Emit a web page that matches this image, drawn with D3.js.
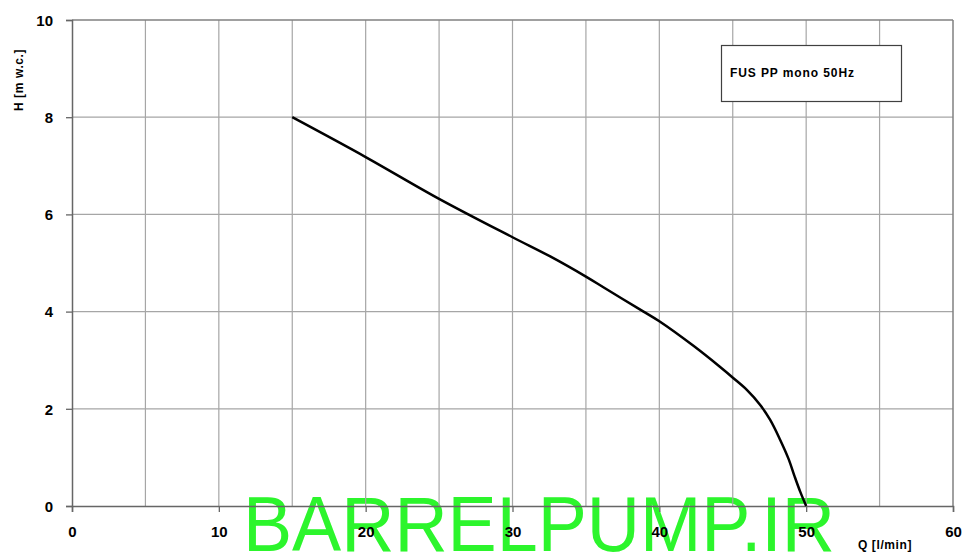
<!DOCTYPE html>
<html><head><meta charset="utf-8">
<script src="https://cdn.jsdelivr.net/npm/d3@7"></script>
<style>body{margin:0;background:#fff;} svg{display:block;font-family:"Liberation Sans",Arial,sans-serif;}</style>
</head><body>
<svg id="c" width="962" height="552"></svg>
<script>
const flow = [15, 20, 25, 30, 32.6, 35, 36.3, 38.7, 40, 42.3, 44.1, 45.05, 45.96, 46.87, 47.55, 48.2, 48.8, 49.2, 49.6, 50];
const head = [8.0, 7.18, 6.32, 5.53, 5.13, 4.72, 4.48, 4.04, 3.8, 3.3, 2.87, 2.63, 2.39, 2.08, 1.77, 1.38, 0.97, 0.62, 0.29, 0];
const xTicks = [0, 10, 20, 30, 40, 50, 60];
const yTicks = [0, 2, 4, 6, 8, 10];
const xGrid = [5, 10, 15, 20, 25, 30, 35, 40, 45, 50, 55];
const yGrid = [2, 4, 6, 8];
const seriesName = "FUS PP mono 50Hz";

const svg = d3.select("#c");
const x = d3.scaleLinear().domain([0, 60]).range([72, 953]);
const y = d3.scaleLinear().domain([0, 10]).range([506, 20]);

// watermark
svg.append("text").attr("x", 243).attr("y", 551)
  .attr("font-size", 78).attr("fill", "#2cf52c")
  .attr("textLength", 592).attr("lengthAdjust", "spacingAndGlyphs")
  .style("font-family", "'Liberation Sans', Arial, sans-serif")
  .text("BARRELPUMP.IR");

// grid
svg.append("g").selectAll("line").data(xGrid).join("line")
  .attr("x1", d => x(d)).attr("x2", d => x(d)).attr("y1", y(10)).attr("y2", y(0))
  .attr("stroke", "#a6a6a6").attr("stroke-width", 1.2);
svg.append("g").selectAll("line").data(yGrid).join("line")
  .attr("x1", x(0)).attr("x2", x(60)).attr("y1", d => y(d)).attr("y2", d => y(d))
  .attr("stroke", "#a6a6a6").attr("stroke-width", 1.2);
// top & right border
svg.append("line").attr("x1", x(0)).attr("x2", x(60)).attr("y1", y(10)).attr("y2", y(10)).attr("stroke", "#808080").attr("stroke-width", 1.5);
svg.append("line").attr("x1", x(60)).attr("x2", x(60)).attr("y1", y(10)).attr("y2", y(0)).attr("stroke", "#808080").attr("stroke-width", 1.5);

// axes
const xAxis = svg.append("g").attr("transform", `translate(0,${y(0)})`)
  .call(d3.axisBottom(x).tickValues(xTicks).tickSize(6).tickPadding(14).tickFormat(d3.format("d")));
const yAxis = svg.append("g").attr("transform", `translate(${x(0)},0)`)
  .call(d3.axisLeft(y).tickValues(yTicks).tickSize(6).tickPadding(13).tickFormat(d3.format("d")));
[xAxis, yAxis].forEach(g => {
  g.select(".domain").attr("stroke", "#666").attr("stroke-width", 1.5);
  g.selectAll(".tick line").attr("stroke", "#666").attr("stroke-width", 1.3);
  g.selectAll("text").attr("font-size", 15).attr("font-weight", "bold").attr("fill", "#000")
    .style("font-family", "'Liberation Sans', Arial, sans-serif");
});
yAxis.selectAll("text").attr("dy", "0.35em");

// axis titles
svg.append("text").attr("transform", "translate(23,80) rotate(-90)")
  .attr("text-anchor", "middle").attr("font-size", 12).attr("font-weight", "bold")
  .attr("letter-spacing", 0.6).text("H [m w.c.]");
svg.append("text").attr("x", 858).attr("y", 549)
  .attr("font-size", 12).attr("font-weight", "bold").attr("letter-spacing", 0.6).text("Q [l/min]");

// legend box
svg.append("rect").attr("x", 721.5).attr("y", 45.5).attr("width", 180).attr("height", 56)
  .attr("fill", "#fff").attr("stroke", "#404040").attr("stroke-width", 1.2);
svg.append("text").attr("x", 730).attr("y", 77).attr("font-size", 12).attr("font-weight", "bold")
  .attr("letter-spacing", 0.9).text(seriesName);

// curve
const line = d3.line().x((d, i) => x(flow[i])).y(d => y(d)).curve(d3.curveCatmullRom.alpha(0.5));
svg.append("path").attr("d", line(head)).attr("fill", "none").attr("stroke", "#000").attr("stroke-width", 2.5);
</script>
</body></html>
